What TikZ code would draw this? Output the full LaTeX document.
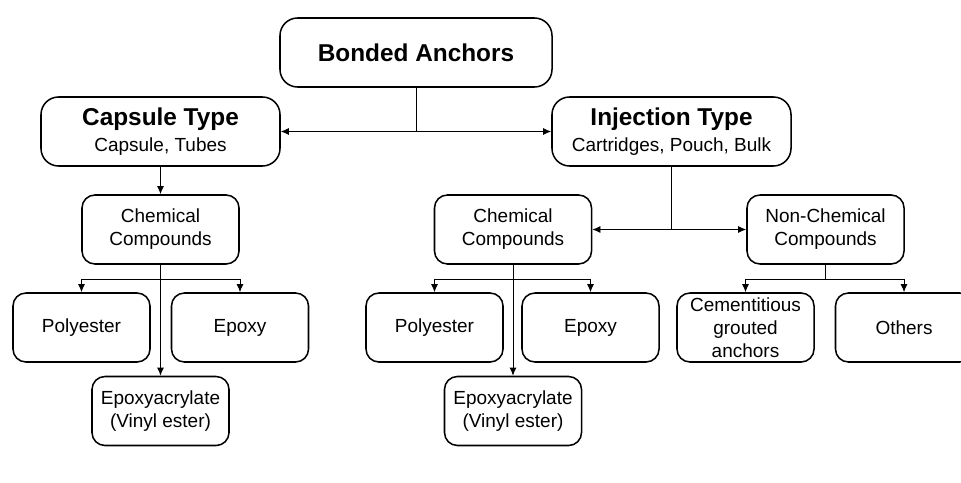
\documentclass[tikz,border=0pt]{standalone}
\usepackage{fontspec}
\setmainfont{Liberation Sans}
\usetikzlibrary{arrows.meta}

\begin{document}
\begin{tikzpicture}[x=0.03cm, y=-0.03cm,
	box/.style={draw, line width=1.3pt, rounded corners=11pt, align=center, inner sep=0pt, minimum width=4.11cm, minimum height=2.07cm, font=\fontsize{16.2}{19.6}\selectfont},
	midbox/.style={box, minimum width=4.71cm},
	topbox/.style={box, rounded corners=15pt, minimum width=7.17cm},
	link/.style={line width=0.8pt, -{Latex[length=7pt, width=6pt]}}]
	\useasboundingbox (0, 0) rectangle (961, 483);
	\node[topbox, minimum width=8.16cm] (ba) at (416, 52.5){\fontsize{20.8}{24}\bfseries Bonded Anchors};
	\node[topbox] (cap) at (160.5, 131.5){{\fontsize{20.8}{24}\bfseries Capsule Type}\\[2pt]Capsule, Tubes};
	\node[topbox] (inj) at (671.5, 131.5){{\fontsize{20.8}{24}\bfseries Injection Type}\\[2pt]Cartridges, Pouch, Bulk};
	\node[midbox] (chemL) at (160.5, 229.5){Chemical\\Compounds};
	\node[midbox] (chemR) at (513, 229.5){Chemical\\Compounds};
	\node[midbox] (nonchem) at (825.5, 229.5){Non-Chemical\\Compounds};
	\node[box] (polyL) at (81.5, 327.5){Polyester};
	\node[box] (epoxL) at (240, 327.5){Epoxy};
	\node[box] (acrL) at (160.5, 411){Epoxyacrylate\\(Vinyl ester)};
	\node[box] (polyR) at (434.5, 327.5){Polyester};
	\node[box] (epoxR) at (590.5, 327.5){Epoxy};
	\node[box] (acrR) at (513, 411){Epoxyacrylate\\(Vinyl ester)};
	\node[box] (cem) at (745.5, 327.5){Cementitious\\grouted\\anchors};
	\node[box] (oth) at (904, 327.5){Others};
	\coordinate (jL) at (160.5, 279);
	\coordinate (jR) at (513, 279);
	\coordinate (jN) at (825.5, 279);
	\draw[link] (ba.south) |- (cap.east);
	\draw[link] (ba.south) |- (inj.west);
	\draw[link] (cap.south) -- (chemL.north);
	\draw[link] (inj.south) |- (chemR.east);
	\draw[link] (inj.south) |- (nonchem.west);
	\draw[link] (jL) -| (polyL.north);
	\draw[link] (jL) -| (epoxL.north);
	\draw[link] (chemL.south) -- (acrL.north);
	\draw[link] (jR) -| (polyR.north);
	\draw[link] (jR) -| (epoxR.north);
	\draw[link] (chemR.south) -- (acrR.north);
	\draw[line width=0.8pt] (nonchem.south) -- (jN);
	\draw[link] (jN) -| (cem.north);
	\draw[link] (jN) -| (oth.north);
\end{tikzpicture}
\end{document}
